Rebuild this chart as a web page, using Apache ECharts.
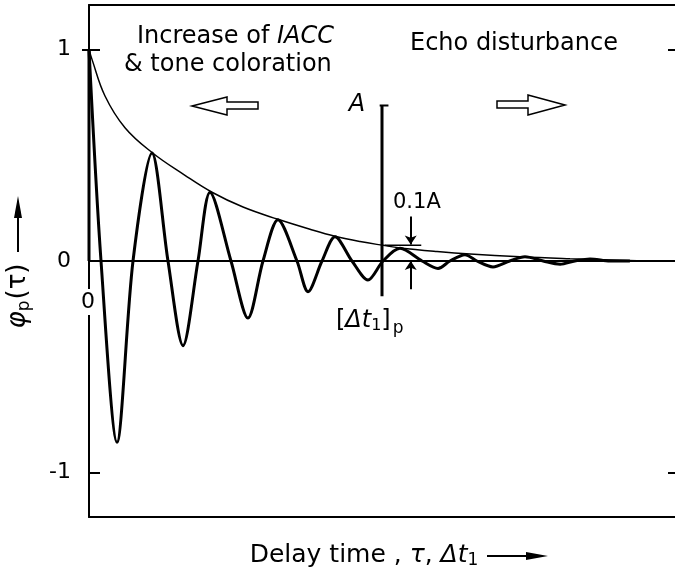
<!DOCTYPE html>
<html><head><meta charset="utf-8">
<script src="https://cdn.jsdelivr.net/npm/echarts@6/dist/echarts.min.js"></script>
<style>html,body{margin:0;padding:0;background:#fff}#c{width:675px;height:573px}</style>
</head><body><div id="c"></div>
<script>
// Delay time tau (x units, [Δt1]p = 50) and normalized ACF phi_p(tau)
const tauCurve = [0, 2.05, 4.78, 7.51, 10.75, 13.48, 16.04, 18.6, 20.65, 24.23, 27.13, 29.69, 32.25, 35.49, 37.37, 39.76, 41.98, 44.88, 47.61, 50.17, 53.07, 56.83, 59.56, 61.6, 64.16, 66.2, 68.94, 71.8, 74.4, 77.5, 80.4, 82.9, 85.5, 88.9, 92.3];
const phiCurve = [1.0, 0, -0.857, 0, 0.51, 0, -0.40, 0, 0.325, 0, -0.27, 0, 0.195, 0, -0.145, 0, 0.115, 0, -0.09, 0, 0.06, 0, -0.035, 0, 0.03, 0, -0.028, 0, 0.02, 0, -0.015, 0, 0.01, 0, 0];
// envelope
const tauEnv = [0, 0.51, 2.73, 6.14, 10.75, 16.38, 20.99, 26.28, 32.25, 37.71, 41.98, 46.25, 50.17, 53.07, 59.39, 65.02, 73.55, 82.08, 90.61, 95.0];
const phiEnv = [1.0, 0.953, 0.78, 0.63, 0.513, 0.405, 0.325, 0.255, 0.197, 0.15, 0.117, 0.092, 0.074, 0.062, 0.045, 0.033, 0.02, 0.011, 0.004, 0];
// [Δt1]p marker
const dt1 = 50;
const levelA = 0.735;
const markerBottom = -0.167;
const levelA10 = 0.075;
const arrowX = 54.9;
const arrowDown = [0.21, 0.078];
const arrowUp = [-0.134, 0.0];
const yTicks = [1, 0, -1];

const FONT = 'DejaVu Sans';
const pairs = (xs, ys) => xs.map((x, i) => [x, ys[i]]);
const blk = '#000';

const chart = echarts.init(document.getElementById('c'), null, {renderer: 'canvas'});
chart.setOption({
  animation: false,
  backgroundColor: '#fff',
  textStyle: {fontFamily: FONT, color: blk},
  grid: {left: 89, right: 0, top: 5, bottom: 56, containLabel: false, outerBoundsMode: 'none'},
  xAxis: [
    {type: 'value', min: 0, max: 100, position: 'bottom',
     axisLine: {show: true, onZero: false, lineStyle: {color: blk, width: 2}},
     axisTick: {show: false}, axisLabel: {show: false}, splitLine: {show: false},
     name: 'Delay time , {g|τ}, {i|Δt}{s|1}', nameLocation: 'middle', nameGap: 25,
     nameTextStyle: {fontFamily: FONT, fontSize: 25, color: blk, padding: [0, 36, 0, 0],
       rich: {g: {fontFamily: FONT, fontSize: 25, fontStyle: 'italic'},
              i: {fontFamily: FONT, fontSize: 25, fontStyle: 'italic'},
              s: {fontFamily: FONT, fontSize: 17, verticalAlign: 'bottom', padding: [10, 0, 0, 0]}}}},
    {type: 'value', min: 0, max: 100, position: 'top',
     axisLine: {show: true, onZero: false, lineStyle: {color: blk, width: 2}},
     axisTick: {show: false}, axisLabel: {show: false}, splitLine: {show: false}}
  ],
  yAxis: [
    {type: 'value', min: -1.21, max: 1.21, position: 'left',
     axisLine: {show: true, onZero: false, lineStyle: {color: blk, width: 2}},
     axisTick: {show: true, inside: true, length: 11, customValues: [1, -1], lineStyle: {color: blk, width: 2}},
     axisLabel: {show: true, customValues: yTicks, margin: 18, fontSize: 22, color: blk, fontFamily: FONT,
       formatter: v => String(v)},
     splitLine: {show: false},
     name: '{f|φ}{s|p}{t|(τ)}', nameLocation: 'middle', nameRotate: 90, nameGap: 56,
     nameTextStyle: {fontFamily: FONT, fontSize: 26, color: blk, padding: [0, 70, 0, 0],
       rich: {f: {fontFamily: FONT, fontSize: 26, fontStyle: 'italic'},
              s: {fontFamily: FONT, fontSize: 17, verticalAlign: 'bottom', padding: [12, 1, 0, 0]},
              t: {fontFamily: FONT, fontSize: 26}}}},
    {type: 'value', min: -1.21, max: 1.21, position: 'left',
     axisLine: {show: false, onZero: false},
     axisTick: {show: true, inside: false, length: 7, customValues: [1], lineStyle: {color: blk, width: 2}},
     axisLabel: {show: false}, splitLine: {show: false}},
    {type: 'value', min: -1.21, max: 1.21, position: 'right',
     axisLine: {show: false, onZero: false},
     axisTick: {show: true, inside: true, length: 7, customValues: [1, -1], lineStyle: {color: blk, width: 2}},
     axisLabel: {show: false}, splitLine: {show: false}}
  ],
  series: [
    {type: 'line', name: 'envelope', data: pairs(tauEnv, phiEnv), smooth: 0.4, showSymbol: false,
     lineStyle: {color: blk, width: 1.5}, z: 2,
     markLine: {silent: true, symbol: 'none', label: {show: false},
       lineStyle: {color: blk, width: 2, type: 'solid'},
       data: [{yAxis: 0}]}},
    {type: 'line', name: 'phi_p', data: pairs(tauCurve, phiCurve), smooth: 0.3, showSymbol: false,
     lineStyle: {color: blk, width: 3, join: 'round'}, z: 3},
    {type: 'line', name: 'origin', data: [[0, 0], [0, 1]], showSymbol: false,
     lineStyle: {color: blk, width: 3}, z: 3},
    {type: 'line', name: 'A', data: [[dt1, markerBottom], [dt1, levelA]], showSymbol: false,
     lineStyle: {color: blk, width: 3}, z: 4},
    {type: 'line', name: 'Atick', data: [[dt1 - 0.4, levelA], [dt1 + 1.1, levelA]], showSymbol: false,
     lineStyle: {color: blk, width: 2}, z: 4},
    {type: 'line', name: '0.1A', data: [[dt1 + 0.5, levelA10], [dt1 + 6.7, levelA10]], showSymbol: false,
     lineStyle: {color: blk, width: 1.5}, z: 4,
     markLine: {silent: true, symbol: ['none', 'arrow'], symbolSize: 9, label: {show: false},
       lineStyle: {color: blk, width: 2, type: 'solid'},
       data: [
         [{coord: [arrowX, arrowDown[0]]}, {coord: [arrowX, arrowDown[1]]}],
         [{coord: [arrowX, arrowUp[0]]}, {coord: [arrowX, arrowUp[1]]}]
       ]}}
  ],
  graphic: [
    {type: 'text', x: 137, y: 37, z: 10, style: {text: 'Increase of {i|IACC}', fill: blk, font: '24px DejaVu Sans', textVerticalAlign: 'middle',
      rich: {i: {fontStyle: 'italic', fontSize: 24, fontFamily: FONT}}}},
    {type: 'text', x: 124, y: 65, z: 10, style: {text: '& tone coloration', fill: blk, font: '24px DejaVu Sans', textVerticalAlign: 'middle'}},
    {type: 'text', x: 410, y: 44, z: 10, style: {text: 'Echo disturbance', fill: blk, font: '24px DejaVu Sans', textVerticalAlign: 'middle'}},
    {type: 'text', x: 357, y: 105, z: 10, style: {text: 'A', fill: blk, font: 'italic 24px DejaVu Sans', textAlign: 'center', textVerticalAlign: 'middle'}},
    {type: 'text', x: 393, y: 203, z: 10, style: {text: '0.1A', fill: blk, font: '21px DejaVu Sans', textVerticalAlign: 'middle'}},
    {type: 'text', x: 336, y: 321, z: 10, style: {text: '[{i|Δt}{s|1}]{p|p}', fill: blk, font: '24px DejaVu Sans', textVerticalAlign: 'middle',
      rich: {i: {fontStyle: 'italic', fontSize: 24, fontFamily: FONT}, s: {fontSize: 16, fontFamily: FONT, padding: [10, 0, 0, 0]}, p: {fontSize: 17, fontFamily: FONT, padding: [16, 0, 0, 2]}}}},
    {type: 'text', x: 88, y: 302, z: 10, style: {text: '0', fill: blk, font: '22px DejaVu Sans', textAlign: 'center', textVerticalAlign: 'middle', backgroundColor: '#fff', padding: [2, 1]}},
    // hollow arrows
    {type: 'polygon', z: 10, shape: {points: [[192, 106], [227, 97], [227, 102], [258, 102], [258, 109], [227, 109], [227, 115]]},
     style: {fill: '#fff', stroke: blk, lineWidth: 1.5}},
    {type: 'polygon', z: 10, shape: {points: [[565, 105], [528, 95], [528, 101], [497, 101], [497, 108], [528, 108], [528, 115]]},
     style: {fill: '#fff', stroke: blk, lineWidth: 1.5}},
    // axis title arrows
    {type: 'line', z: 10, shape: {x1: 487, y1: 556, x2: 530, y2: 556}, style: {stroke: blk, lineWidth: 2}},
    {type: 'polygon', z: 10, shape: {points: [[548, 556], [526, 552], [526, 560]]}, style: {fill: blk}},
    {type: 'line', z: 10, shape: {x1: 18, y1: 252, x2: 18, y2: 212}, style: {stroke: blk, lineWidth: 2}},
    {type: 'polygon', z: 10, shape: {points: [[18, 196], [14, 218], [22, 218]]}, style: {fill: blk}}
  ]
});
</script>
</body></html>
